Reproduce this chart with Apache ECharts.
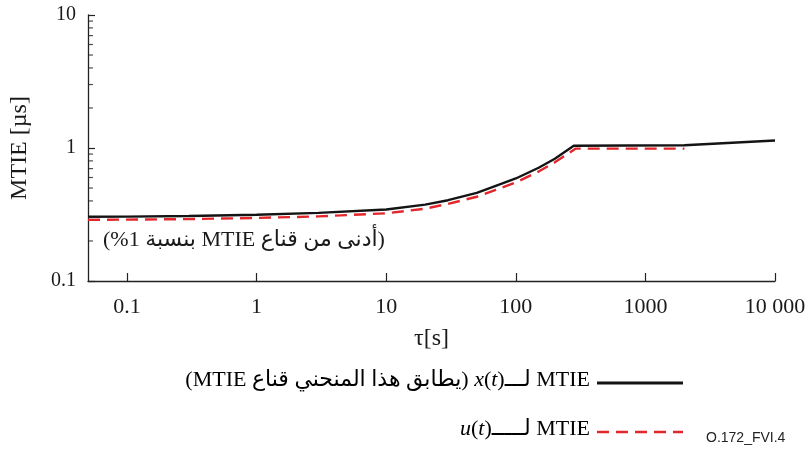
<!DOCTYPE html>
<html>
<head>
<meta charset="utf-8">
<script src="https://cdn.jsdelivr.net/npm/echarts@6/dist/echarts.min.js"></script>
<style>
    html, body { margin: 0; padding: 0; background: #fff; }
    #chart { width: 812px; height: 453px; }
</style>
</head>
<body>
<div id="chart"></div>
<script>
// MTIE for x(t): tau [s] and MTIE [us]
const tauX = [0.05, 0.1, 0.3, 1, 3, 10, 20, 30, 50, 70, 100, 150, 200, 280, 2000, 10000]
const mtieX = [0.304, 0.305, 0.308, 0.315, 0.325, 0.345, 0.375, 0.405, 0.46, 0.52, 0.59, 0.71, 0.83, 1.04, 1.05, 1.14]
// MTIE for u(t)
const tauU = [0.05, 0.3, 1, 3, 10, 20, 30, 50, 70, 100, 150, 200, 290, 2000]
const mtieU = [0.288, 0.292, 0.298, 0.306, 0.323, 0.35, 0.38, 0.43, 0.485, 0.55, 0.665, 0.78, 0.99, 0.99]

const xTickLabels = ['0.1', '1', '10', '100', '1000', '10 000'] // 10^-1 .. 10^4
const xTickExpMin = -1
const yTickLabels = ['0.1', '1', '10'] // 10^-1 .. 10^1
const yTickExpMin = -1
const yMinorTicks = [0.2, 0.3, 0.4, 0.5, 0.6, 0.7, 0.8, 0.9, 2, 3, 4, 5, 6, 7, 8, 9]

const X_MIN = 0.05
const X_MAX = 10000
const SERIF = '"Liberation Serif", "DejaVu Sans", serif'
const RLE = '\u202B'
const PDF = '\u202C'

function zip(xs, ys) {
    return xs.map((x, i) => [x, ys[i]])
}

// only label exact powers of ten
function powLabel(labels, expMin) {
    return function(v) {
        let lg = Math.log10(v)
        let e = Math.round(lg)
        if (Math.abs(lg - e) > 1e-6) {
            return ''
        }
        return labels[e - expMin] || ''
    }
}

let myChart = echarts.init(document.getElementById('chart'))

const rich = {
    n: { fontFamily: SERIF, fontSize: 22, color: '#1a1a1a' },
    i: { fontFamily: SERIF, fontSize: 22, fontStyle: 'italic', color: '#1a1a1a' }
}

let option = {
    animation: false,
    backgroundColor: '#fff',
    grid: { left: 87, right: 37, top: 15, bottom: 172 },
    xAxis: {
        type: 'log',
        min: X_MIN,
        max: X_MAX,
        name: 'τ[s]',
        nameLocation: 'middle',
        nameGap: 46,
        nameTextStyle: { fontFamily: SERIF, fontSize: 24, color: '#1a1a1a' },
        axisLine: { lineStyle: { color: '#222', width: 1.3 } },
        axisTick: { inside: true, length: 8, lineStyle: { color: '#222', width: 1.2 } },
        splitLine: { show: false },
        axisLabel: {
            fontFamily: SERIF, fontSize: 22, color: '#1a1a1a', margin: 15,
            showMinLabel: false,
            formatter: powLabel(xTickLabels, xTickExpMin)
        }
    },
    yAxis: {
        type: 'log',
        min: 0.1,
        max: 10,
        name: 'MTIE [µs]',
        nameLocation: 'middle',
        nameGap: 56,
        nameTextStyle: { fontFamily: SERIF, fontSize: 24, color: '#1a1a1a' },
        axisLine: { show: true, lineStyle: { color: '#222', width: 1.3 } },
        axisTick: { inside: true, length: 7, lineStyle: { color: '#222', width: 1.2 } },
        splitLine: { show: false },
        axisLabel: {
            fontFamily: SERIF, fontSize: 20, color: '#1a1a1a', margin: 12,
            formatter: powLabel(yTickLabels, yTickExpMin)
        }
    },
    series: [
        {
            name: 'x',
            type: 'line',
            data: zip(tauX, mtieX),
            showSymbol: false,
            lineStyle: { color: '#141414', width: 2.4 },
            z: 3
        },
        {
            name: 'u',
            type: 'line',
            data: zip(tauU, mtieU),
            showSymbol: false,
            lineStyle: { color: '#e3262b', width: 2.4, type: [12, 7] },
            z: 2
        },
        {
            // minor ticks on the y axis
            type: 'scatter',
            data: yMinorTicks.map(v => [X_MIN, v]),
            symbol: 'rect',
            symbolSize: [5, 1.2],
            symbolOffset: [2.5, 0],
            itemStyle: { color: '#222' },
            silent: true,
            clip: false,
            z: 4
        }
    ],
    graphic: [
        {
            type: 'text',
            left: 103,
            top: 229,
            style: {
                text: RLE + '(أدنى من قناع MTIE بنسبة 1%)' + PDF,
                font: '22px ' + SERIF,
                fill: '#1a1a1a'
            }
        },
        {
            type: 'text',
            right: 222,
            top: 369,
            style: {
                text: '{n|' + RLE + '(يطابق هذا المنحني قناع MTIE)' + PDF + ' }{i|x}{n|(}{i|t}{n|)}{n|لـــ}{n| MTIE}',
                rich: rich
            }
        },
        {
            type: 'line',
            shape: { x1: 597, y1: 383, x2: 683, y2: 383 },
            style: { stroke: '#141414', lineWidth: 3 }
        },
        {
            type: 'text',
            right: 222,
            top: 418,
            style: {
                text: '{i|u}{n|(}{i|t}{n|)}{n|لـــــ}{n| MTIE}',
                rich: rich
            }
        },
        {
            type: 'line',
            shape: { x1: 597, y1: 432, x2: 683, y2: 432 },
            style: { stroke: '#e3262b', lineWidth: 2.4, lineDash: [12, 7] }
        },
        {
            type: 'text',
            left: 706,
            top: 431,
            style: { text: 'O.172_FVI.4', font: '14px "Liberation Sans", Arial, sans-serif', fill: '#222' }
        }
    ]
}

myChart.setOption(option)
</script>
</body>
</html>
